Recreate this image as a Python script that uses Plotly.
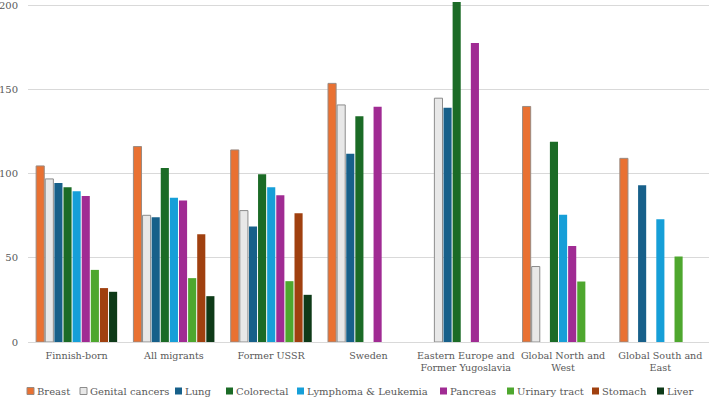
import plotly.graph_objects as go

categories = ["Finnish-born", "All migrants", "Former USSR", "Sweden",
              "Eastern Europe and<br>Former Yugoslavia", "Global North and<br>West",
              "Global South and<br>East"]

breast     = [104.5, 116, 114, 153.5, None, 139.8, 109]
genital    = [96.8, 75.2, 78, 140.7, 144.7, 44.8, None]
lung       = [94.4, 74, 68.6, 111.7, 139, None, 93]
colorectal = [91.8, 103.2, 99.5, 134, 202.5, 118.8, None]
lymphoma   = [89.5, 85.6, 91.8, None, None, 75.5, 72.9]
pancreas   = [86.6, 84, 87.1, 139.7, 177.4, 57, None]
urinary    = [42.8, 37.9, 36.1, None, None, 35.9, 50.7]
stomach    = [32, 64, 76.4, None, None, None, None]
liver      = [29.8, 27.2, 28, None, None, None, None]

series_names = ["Breast", "Genital cancers", "Lung", "Colorectal", "Lymphoma & Leukemia",
                "Pancreas", "Urinary tract", "Stomach", "Liver"]
series_values = [breast, genital, lung, colorectal, lymphoma, pancreas, urinary, stomach, liver]
colors = ["#E97132", "#E8E8E8", "#17608A", "#1B6B26", "#169FD8", "#A02B93",
          "#4EA72E", "#A0400F", "#0E3A18"]
line_colors = ["#9A8A80", "#8C8C8C", None, None, None, None, None, None, None]

FONT = "DejaVu Serif"
FS = 10
TXT = "#595959"
W, H = 709, 397
L, R, T, B = 28, 0, 2, 55

fig = go.Figure()
for name, vals, c, lc in zip(series_names, series_values, colors, line_colors):
    fig.add_trace(go.Bar(
        name=name, x=categories, y=vals, marker_color=c,
        marker_line=dict(color=lc if lc else c, width=1 if lc else 0),
        showlegend=False, cliponaxis=False,
    ))

# custom legend (compact, like the original)
legend_px = [27, 80, 175, 226, 297, 440, 507, 592, 657]
legend_y = 391
pw, ph = W - L - R, H - T - B
def xp(px): return (px - L) / pw
def yp(py): return (H - B - py) / ph

shapes = []
annotations = []
for name, c, lc, sx in zip(series_names, colors, line_colors, legend_px):
    shapes.append(dict(type="rect", xref="paper", yref="paper",
                       x0=xp(sx), x1=xp(sx + 7), y0=yp(legend_y + 3.5), y1=yp(legend_y - 3.5),
                       fillcolor=c, line=dict(color=lc if lc else c, width=1 if lc else 0)))
    annotations.append(dict(xref="paper", yref="paper", x=xp(sx + 8), y=yp(legend_y),
                            xanchor="left", yanchor="middle", text=name, showarrow=False,
                            font=dict(family=FONT, size=FS, color=TXT)))

fig.update_layout(
    width=W, height=H,
    margin=dict(l=L, r=R, t=T, b=B, autoexpand=False),
    paper_bgcolor="white", plot_bgcolor="white",
    barmode="group", bargap=0.157, bargroupgap=0.11,
    font=dict(family=FONT, size=FS, color=TXT),
    shapes=shapes, annotations=annotations,
    xaxis=dict(showgrid=False, showline=False, ticks="", tickangle=0, automargin=False,
               tickfont=dict(family=FONT, size=9.6, color=TXT), ticklabelstandoff=6),
    yaxis=dict(range=[0, 201.8], tickvals=[0, 50, 100, 150, 200], showgrid=True,
               gridcolor="#D9D9D9", gridwidth=1, zeroline=True, zerolinecolor="#D9D9D9",
               zerolinewidth=1, showline=False, ticks="", ticklabeloverflow="allow",
               automargin=False,
               tickfont=dict(family=FONT, size=FS, color=TXT), ticklabelstandoff=9),
    showlegend=False,
)

fig.write_html("out.html")
